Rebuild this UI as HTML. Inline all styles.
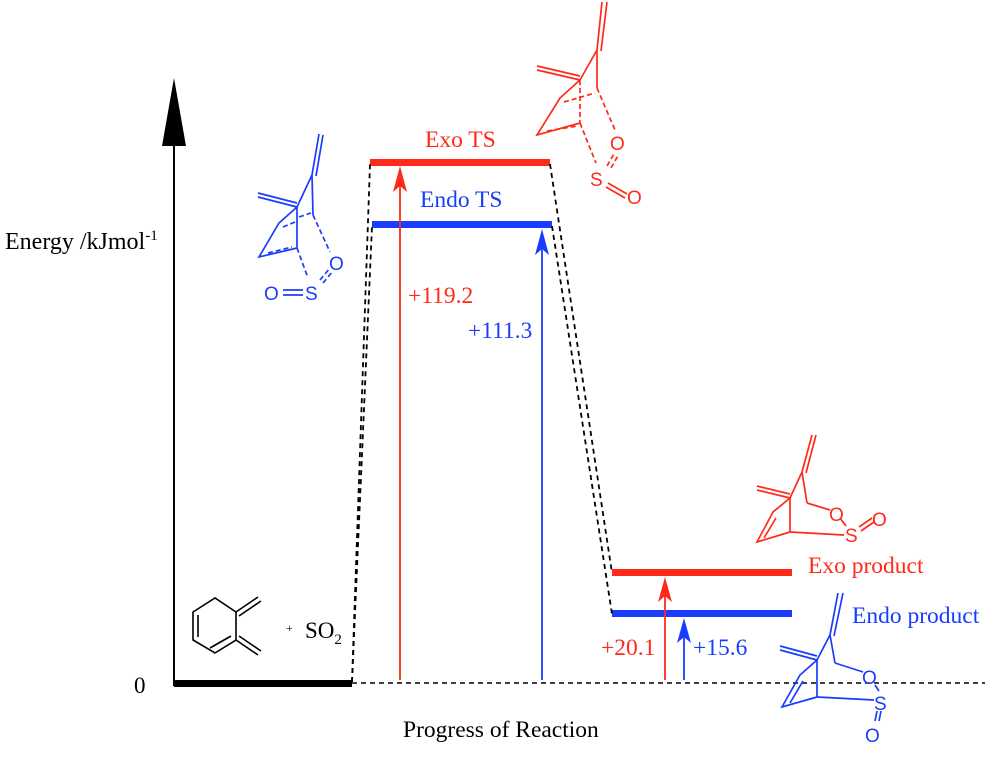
<!DOCTYPE html>
<html><head><style>
body{margin:0;background:#fff;}
svg{display:block;font-family:"Liberation Serif",serif;}
</style></head><body>
<svg width="994" height="774" viewBox="0 0 994 774">
<line x1="174" y1="686" x2="174" y2="135" stroke="#000" stroke-width="2"/>
<polygon points="174,78 162,146 186,146" fill="#000"/>
<text x="5" y="249" font-size="24">Energy /kJmol<tspan font-size="15" dy="-9">-1</tspan></text>
<text x="134" y="693" font-size="23">0</text>
<text x="403" y="737" font-size="23.5">Progress of Reaction</text>
<rect x="174" y="680" width="178" height="7" fill="#000"/>
<line x1="352" y1="683" x2="985" y2="683" stroke="#000" stroke-width="1.5" stroke-dasharray="5,4"/>
<rect x="370" y="159" width="180" height="7" fill="#ff2a1a"/>
<rect x="372" y="221" width="180" height="7" fill="#1a3cff"/>
<rect x="612" y="569" width="180" height="7" fill="#ff2a1a"/>
<rect x="612" y="610" width="180" height="7" fill="#1a3cff"/>
<g stroke="#000" stroke-width="1.8" stroke-dasharray="5,4" fill="none">
<line x1="352" y1="682" x2="370" y2="164"/>
<line x1="352" y1="682" x2="372" y2="226"/>
<line x1="550" y1="164" x2="612" y2="573"/>
<line x1="552" y1="226" x2="612" y2="614"/>
</g>
<line x1="400" y1="680" x2="400" y2="185" stroke="#ff2a1a" stroke-width="1.8"/>
<polygon points="400,166 393,192 400,186 407,192" fill="#ff2a1a"/>
<line x1="542" y1="680" x2="542" y2="248" stroke="#1a3cff" stroke-width="1.8"/>
<polygon points="542,229 535,255 542,249 549,255" fill="#1a3cff"/>
<line x1="665" y1="680" x2="665" y2="595" stroke="#ff2a1a" stroke-width="1.8"/>
<polygon points="665,577 658,602 665,596 672,602" fill="#ff2a1a"/>
<line x1="684" y1="680" x2="684" y2="636" stroke="#1a3cff" stroke-width="1.8"/>
<polygon points="684,618 677,643 684,637 691,643" fill="#1a3cff"/>
<g font-size="23.5">
<text x="425" y="147" fill="#ff2a1a">Exo TS</text>
<text x="420" y="207" fill="#1a3cff">Endo TS</text>
<text x="408" y="303" fill="#ff2a1a">+119.2</text>
<text x="468" y="338" fill="#1a3cff">+111.3</text>
<text x="601" y="655" fill="#ff2a1a">+20.1</text>
<text x="693" y="655" fill="#1a3cff">+15.6</text>
<text x="808" y="573" fill="#ff2a1a">Exo product</text>
<text x="852" y="623" fill="#1a3cff">Endo product</text>
</g>
<g stroke="#000" stroke-width="1.6" fill="none">
<polygon points="193,612 215,598 236,612 236,640 215,653 193,640"/>
<line x1="198" y1="615" x2="198" y2="637"/>
<line x1="210" y1="648" x2="231" y2="636" />
<line x1="236" y1="612" x2="258" y2="597"/><line x1="239" y1="616" x2="261" y2="601"/>
<line x1="236" y1="640" x2="258" y2="655"/><line x1="239" y1="636" x2="261" y2="651"/>
</g>
<text x="286" y="632" font-size="12">+</text>
<text x="305" y="638" font-size="23">SO<tspan font-size="15" dy="6">2</tspan></text>
<g stroke="#1a3cff" stroke-width="1.7" fill="none">
<line x1="312" y1="175" x2="319" y2="134"/><line x1="316" y1="176" x2="323" y2="135"/>
<line x1="312" y1="175" x2="297" y2="207"/><line x1="312" y1="175" x2="313" y2="215"/>
<line x1="297" y1="207" x2="258" y2="197"/><line x1="297" y1="203" x2="258" y2="193"/>
<line x1="297" y1="207" x2="297" y2="248"/>
<polyline points="297,207 279,223 259,257 297,248"/>
<g stroke-dasharray="5,3">
<line x1="283" y1="227" x2="295" y2="222"/><line x1="268" y1="253" x2="292" y2="247"/>
<line x1="299" y1="217" x2="311" y2="213"/>
<line x1="313" y1="215" x2="330" y2="252"/>
<line x1="297" y1="248" x2="308" y2="278"/>
<line x1="320" y1="280" x2="330" y2="268"/><line x1="323" y1="283" x2="333" y2="271"/>
</g>
<line x1="283" y1="290" x2="303" y2="290"/><line x1="283" y1="295" x2="303" y2="295"/>
</g>
<g fill="#1a3cff" font-family="Liberation Sans,sans-serif" font-size="19">
<text x="329" y="270">O</text><text x="305" y="300">S</text><text x="264" y="300">O</text>
</g>
<g stroke="#ff2a1a" stroke-width="1.7" fill="none">
<line x1="597" y1="50" x2="602" y2="2"/><line x1="601" y1="51" x2="607" y2="2"/>
<line x1="597" y1="50" x2="580" y2="80"/><line x1="597" y1="50" x2="597" y2="88"/>
<line x1="580" y1="80" x2="537" y2="70"/><line x1="580" y1="76" x2="537" y2="66"/>
<polyline points="580,80 560,98 537,135 580,123"/>
<g stroke-dasharray="5,3">
<line x1="580" y1="80" x2="580" y2="123"/>
<line x1="564" y1="102" x2="595" y2="93"/><line x1="547" y1="131" x2="577" y2="126"/>
<line x1="597" y1="88" x2="615" y2="130"/>
<line x1="580" y1="123" x2="596" y2="163"/>
<line x1="607" y1="166" x2="615" y2="152"/><line x1="611" y1="168" x2="619" y2="154"/>
</g>
<line x1="608" y1="183" x2="627" y2="194"/><line x1="606" y1="187" x2="625" y2="198"/>
</g>
<g fill="#ff2a1a" font-family="Liberation Sans,sans-serif" font-size="19">
<text x="610" y="150">O</text><text x="590" y="186">S</text><text x="627" y="204">O</text>
</g>
<g stroke="#ff2a1a" stroke-width="1.7" fill="none">
<line x1="802" y1="472" x2="812" y2="435"/><line x1="806" y1="473" x2="816" y2="435"/>
<line x1="802" y1="472" x2="790" y2="498"/><line x1="802" y1="472" x2="807" y2="503"/>
<line x1="790" y1="498" x2="757" y2="490"/><line x1="790" y1="494" x2="757" y2="486"/>
<line x1="790" y1="498" x2="790" y2="532"/>
<polyline points="790,498 773,512 757,542 790,532"/>
<line x1="776" y1="518" x2="764" y2="538"/>
<line x1="807" y1="503" x2="830" y2="510"/>
<line x1="790" y1="532" x2="844" y2="535"/>
<line x1="840" y1="518" x2="846" y2="526"/>
<line x1="859" y1="527" x2="872" y2="518"/><line x1="861" y1="531" x2="874" y2="522"/>
</g>
<g fill="#ff2a1a" font-family="Liberation Sans,sans-serif" font-size="19">
<text x="829" y="521">O</text><text x="845" y="542">S</text><text x="872" y="526">O</text>
</g>
<g stroke="#1a3cff" stroke-width="1.7" fill="none">
<line x1="830" y1="635" x2="838" y2="593"/><line x1="834" y1="636" x2="843" y2="593"/>
<line x1="830" y1="635" x2="817" y2="660"/><line x1="830" y1="635" x2="835" y2="663"/>
<line x1="817" y1="660" x2="780" y2="650"/><line x1="817" y1="656" x2="780" y2="646"/>
<line x1="817" y1="660" x2="817" y2="697"/>
<polyline points="817,660 800,675 782,707 817,697"/>
<line x1="803" y1="681" x2="790" y2="703"/>
<line x1="835" y1="663" x2="863" y2="672"/>
<line x1="817" y1="697" x2="874" y2="700"/>
<line x1="875" y1="685" x2="879" y2="691"/>
<line x1="877" y1="711" x2="875" y2="721"/><line x1="881" y1="711" x2="879" y2="721"/>
</g>
<g fill="#1a3cff" font-family="Liberation Sans,sans-serif" font-size="19">
<text x="862" y="684">O</text><text x="874" y="710">S</text><text x="865" y="742">O</text>
</g>
</svg>
</body></html>
